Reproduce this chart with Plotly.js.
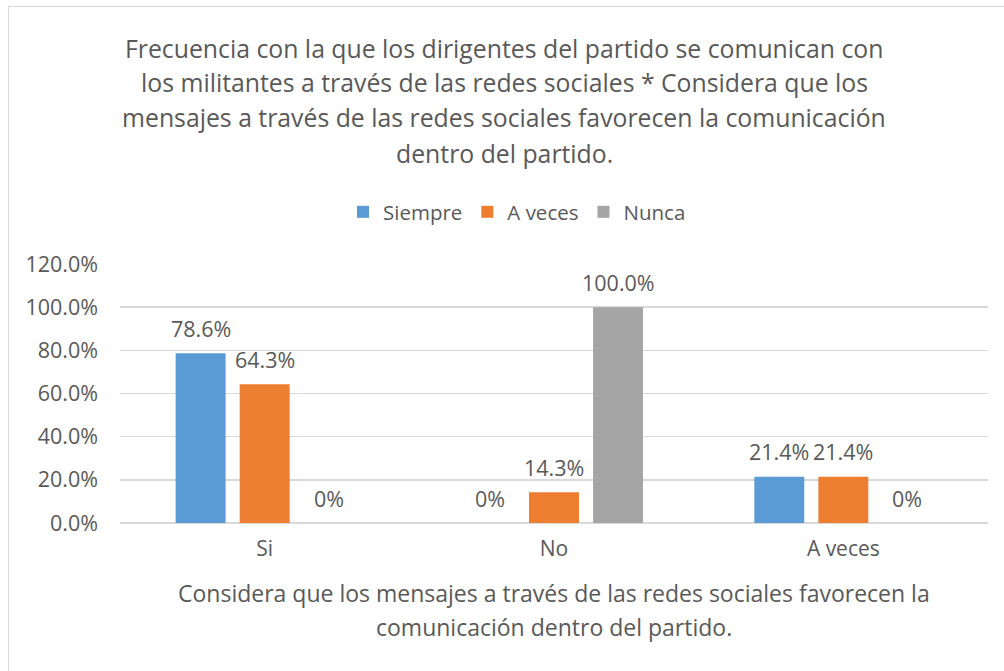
<!DOCTYPE html>
<html>
<head>
<meta charset="utf-8">
<script src="https://cdn.plot.ly/plotly-3.0.1.min.js"></script>
<style>
  html, body { margin: 0; padding: 0; background: #fff; overflow: hidden; }
  #chart { width: 1004px; height: 671px; position: absolute; left: 0; top: 0; }
  #frame { position: absolute; left: 8px; top: 6px; width: 1100px; height: 800px;
           border: 1.5px solid #d9d9d9; pointer-events: none; }
</style>
</head>
<body>
<div id="chart"></div>
<div id="frame"></div>
<script>
// ---- data ----
const categories = ["Si", "No", "A veces"];
const seriesNames = ["Siempre", "A veces", "Nunca"];
const siempre = [0.786, 0.0, 0.214];
const aVeces = [0.643, 0.143, 0.214];
const nunca = [0.0, 1.0, 0.0];
const siempreLabels = ["78.6%", "0%", "21.4%"];
const aVecesLabels = ["64.3%", "14.3%", "21.4%"];
const nuncaLabels = ["0%", "100.0%", "0%"];
const yTickVals = [0, 0.2, 0.4, 0.6, 0.8, 1.0, 1.2];
const yTickText = ["0.0%", "20.0%", "40.0%", "60.0%", "80.0%", "100.0%", "120.0%"];
const titleLines = [
  "Frecuencia con la que los dirigentes del partido se comunican con",
  "los militantes a través de las redes sociales * Considera que los",
  "mensajes a través de las redes sociales favorecen la comunicación",
  "dentro del partido."
];
const xTitleLines = [
  "Considera que los mensajes a través de las redes sociales favorecen la",
  "comunicación dentro del partido."
];

// ---- style ----
const FONT = "Open Sans, Liberation Sans, sans-serif";
const TXT = "#595959";
const colors = ["#5B9BD5", "#ED7D31", "#A5A5A5"];
const values = [siempre, aVeces, nunca];
const labels = [siempreLabels, aVecesLabels, nuncaLabels];
const BARGAP = 0.336, GROUPGAP = 0.22;

// plot area in pixels
const L = 120, R = 16, T = 264, B = 148;
const H = 671 - T - B, W = 1004 - L - R;
const py = p => (671 - B - p) / H;   // pixel y -> paper y
const px = p => (p - L) / W;          // pixel x -> paper x

const traces = seriesNames.map((name, i) => ({
  type: "bar",
  name: name,
  x: categories,
  y: values[i],
  marker: { color: colors[i] },
  hoverinfo: "skip"
}));

const annotations = [];
// data labels, anchored to each bar's value through the axis scales
const slot = (W / categories.length) * (1 - BARGAP) / seriesNames.length;
values.forEach((vals, i) => {
  vals.forEach((v, j) => {
    annotations.push({
      text: labels[i][j], xref: "x", yref: "y", x: categories[j], y: v,
      xshift: (i - (seriesNames.length - 1) / 2) * slot,
      yshift: 25,
      xanchor: "center", yanchor: "middle", showarrow: false,
      font: { family: FONT, size: 21.5, color: TXT }
    });
  });
});

const titleY = [48, 82, 117, 153];
titleLines.forEach((t, i) => annotations.push({
  text: t, xref: "paper", yref: "paper", x: px(504), y: py(titleY[i]),
  xanchor: "center", yanchor: "middle", showarrow: false,
  font: { family: FONT, size: 24.8, color: TXT }
}));
const xtY = [593, 627];
xTitleLines.forEach((t, i) => annotations.push({
  text: t, xref: "paper", yref: "paper", x: px(554), y: py(xtY[i]),
  xanchor: "center", yanchor: "middle", showarrow: false,
  font: { family: FONT, size: 23, color: TXT }
}));

const layout = {
  width: 1004, height: 671,
  margin: { l: L, r: R, t: T, b: B, pad: 0 },
  paper_bgcolor: "rgba(0,0,0,0)",
  plot_bgcolor: "rgba(0,0,0,0)",
  font: { family: FONT, color: TXT },
  barmode: "group",
  bargap: BARGAP,
  bargroupgap: GROUPGAP,
  showlegend: true,
  legend: {
    orientation: "h", x: px(517), y: py(212), xanchor: "center", yanchor: "middle",
    font: { family: FONT, size: 20.5, color: TXT },
    itemwidth: 30, itemsizing: "constant", traceorder: "normal"
  },
  xaxis: {
    type: "category",
    showgrid: false, zeroline: false, showline: false, ticks: "",
    tickfont: { family: FONT, size: 21, color: TXT },
    ticklabelstandoff: 11,
    fixedrange: true
  },
  yaxis: {
    range: [0, 1.2],
    tickvals: yTickVals, ticktext: yTickText,
    showgrid: true, gridcolor: "#d9d9d9", gridwidth: 1.5,
    zeroline: true, zerolinecolor: "#d9d9d9", zerolinewidth: 1.5,
    showline: false, ticks: "",
    tickfont: { family: FONT, size: 21.5, color: TXT },
    ticklabelstandoff: 21,
    fixedrange: true
  },
  annotations: annotations
};

Plotly.newPlot("chart", traces, layout, { displayModeBar: false, staticPlot: true });
</script>
</body>
</html>
